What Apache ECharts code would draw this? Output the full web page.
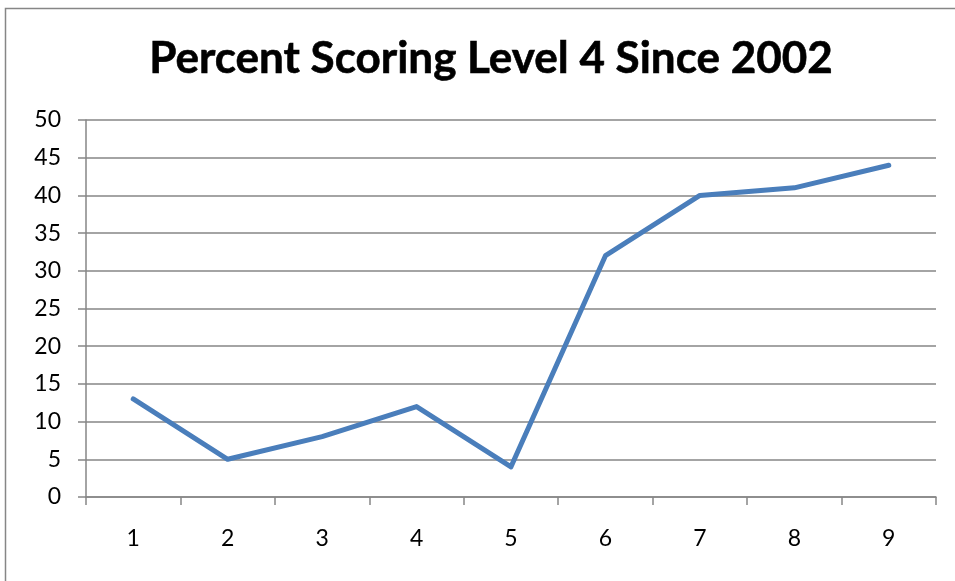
<!DOCTYPE html>
<html>
<head>
<meta charset="utf-8">
<title>Percent Scoring Level 4 Since 2002</title>
<script src="https://cdn.jsdelivr.net/npm/echarts@6/dist/echarts.min.js"></script>
<style>
  html, body { margin: 0; padding: 0; background: #fff; }
  #chart { width: 955px; height: 581px; }
</style>
</head>
<body>
<div id="chart"></div>
<script>
// data
const categories = ['1', '2', '3', '4', '5', '6', '7', '8', '9']
const percentLevel4 = [13, 5, 8, 12, 4, 32, 40, 41, 44]

const chart = echarts.init(document.getElementById('chart'))

const axisGray = '#868686'
const labelFont = 'Lato, "Open Sans", sans-serif'

const option = {
  animation: false,
  title: {
    text: 'Percent Scoring Level 4 Since 2002',
    left: 486,
    top: 32,
    textAlign: 'center',
    textStyle: {
      fontFamily: labelFont,
      fontSize: 44,
      fontWeight: 'bold',
      color: '#000',
      textBorderColor: '#000',
      textBorderWidth: 0.6
    }
  },
  // outer chart frame (only left/top edges fall inside the picture)
  graphic: [{
    type: 'rect',
    shape: { x: 5.5, y: 8.5, width: 1200, height: 1200 },
    style: { fill: 'none', stroke: axisGray, lineWidth: 1.5 },
    silent: true
  }],
  grid: {
    left: 86,
    right: 19,
    top: 120,
    bottom: 84
  },
  xAxis: {
    type: 'category',
    data: categories,
    boundaryGap: true,
    axisLine: { lineStyle: { color: axisGray, width: 1.5 } },
    axisTick: { show: true, length: 8, inside: false, lineStyle: { color: axisGray, width: 1.5 } },
    axisLabel: {
      margin: 30,
      fontFamily: labelFont,
      fontSize: 23,
      color: '#000'
    },
    splitLine: { show: false }
  },
  yAxis: {
    type: 'value',
    min: 0,
    max: 50,
    interval: 5,
    axisLine: { show: true, lineStyle: { color: axisGray, width: 1.5 } },
    axisTick: { show: true, length: 8, lineStyle: { color: axisGray, width: 1.5 } },
    axisLabel: {
      margin: 25,
      fontFamily: labelFont,
      fontSize: 23,
      color: '#000'
    },
    splitLine: { show: true, lineStyle: { color: axisGray, width: 1.5 } }
  },
  series: [{
    name: 'Percent Level 4',
    type: 'line',
    data: percentLevel4,
    symbol: 'none',
    lineStyle: { color: '#4a7ebb', width: 5, cap: 'round', join: 'round' },
    itemStyle: { color: '#4a7ebb' }
  }]
}

chart.setOption(option)
</script>
</body>
</html>
